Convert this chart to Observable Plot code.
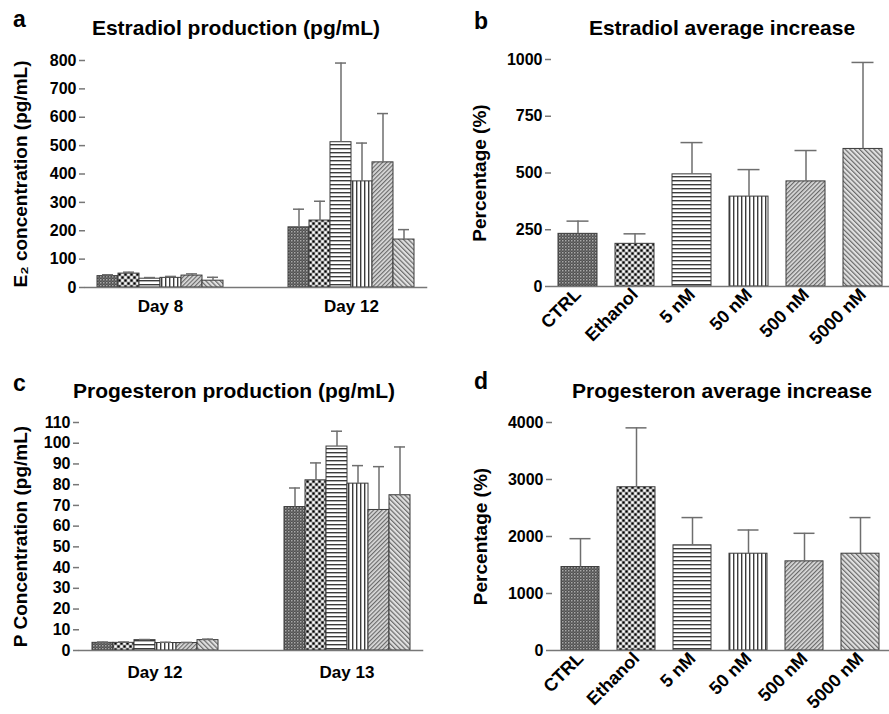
<!DOCTYPE html>
<html>
<head>
<meta charset="utf-8">
<script src="https://cdn.jsdelivr.net/npm/d3@7"></script>
<script src="https://cdn.jsdelivr.net/npm/@observablehq/plot@0.6"></script>
<style>
  body { margin: 0; background: #fff; }
  #root { position: relative; width: 889px; height: 714px; overflow: hidden;
          font-family: "Liberation Sans", Arial, sans-serif; font-weight: bold; color: #000; }
  .panel { position: absolute; }
  .title { position: absolute; font-size: 21px; white-space: nowrap; line-height: 1; transform: translate(-50%, -50%); }
  .letter { position: absolute; font-size: 23px; line-height: 1; }
</style>
</head>
<body>
<svg width="0" height="0" style="position:absolute">
  <defs>
    <pattern id="pat-ctrl" width="3" height="3" patternUnits="userSpaceOnUse">
      <rect width="3" height="3" fill="#505050"/>
      <rect width="1.5" height="1.5" fill="#a8a8a8"/>
      <rect x="1.5" y="1.5" width="1.5" height="1.5" fill="#6a6a6a"/>
    </pattern>
    <pattern id="pat-eth" width="6" height="6" patternUnits="userSpaceOnUse">
      <rect width="6" height="6" fill="#a8a8a8"/>
      <rect x="0.4" y="0.4" width="2.2" height="2.2" fill="#000"/>
      <rect x="3.4" y="3.4" width="2.2" height="2.2" fill="#000"/>
      <rect x="3.4" y="0.4" width="2.2" height="2.2" fill="#fff"/>
      <rect x="0.4" y="3.4" width="2.2" height="2.2" fill="#fff"/>
    </pattern>
    <pattern id="pat-5" width="4" height="4" patternUnits="userSpaceOnUse">
      <rect width="4" height="4" fill="#fff"/>
      <rect y="0" width="4" height="1.4" fill="#3c3c3c"/>
    </pattern>
    <pattern id="pat-50" width="4" height="4" patternUnits="userSpaceOnUse">
      <rect width="4" height="4" fill="#fff"/>
      <rect x="0" width="1.4" height="4" fill="#3c3c3c"/>
    </pattern>
    <pattern id="pat-500" width="3" height="3" patternUnits="userSpaceOnUse" patternTransform="rotate(45)">
      <rect width="3" height="3" fill="#dcdcdc"/>
      <rect width="1.2" height="3" fill="#6a6a6a"/>
    </pattern>
    <pattern id="pat-5000" width="3.4" height="3.4" patternUnits="userSpaceOnUse" patternTransform="rotate(-45)">
      <rect width="3.4" height="3.4" fill="#e0e0e0"/>
      <rect width="1.2" height="3.4" fill="#6a6a6a"/>
    </pattern>
  </defs>
</svg>
<div id="root"></div>
<script>
// ---------- data ----------
const treatments = ["CTRL", "Ethanol", "5 nM", "50 nM", "500 nM", "5000 nM"];
const patternIds = ["pat-ctrl", "pat-eth", "pat-5", "pat-50", "pat-500", "pat-5000"];

// (a) Estradiol production (pg/mL)
const e2Days = ["Day 8", "Day 12"];
const e2Day8Mean = [40, 49, 31, 34, 42, 24];
const e2Day8Sd = [5, 5, 4, 5, 6, 12];
const e2Day12Mean = [212, 236, 512, 374, 441, 169];
const e2Day12Sd = [64, 68, 279, 135, 172, 35];
const e2Ticks = [0, 100, 200, 300, 400, 500, 600, 700, 800];

// (b) Estradiol average increase (%)
const e2IncMean = [232, 188, 494, 396, 463, 606];
const e2IncSd = [56, 44, 140, 119, 136, 381];
const e2IncTicks = [0, 250, 500, 750, 1000];

// (c) Progesteron production (pg/mL)
const pDays = ["Day 12", "Day 13"];
const pDay12Mean = [3.7, 3.7, 5.0, 3.6, 3.6, 5.0];
const pDay12Sd = [0.4, 0.4, 0.3, 0.4, 0.3, 0.5];
const pDay13Mean = [69.2, 82.1, 98.4, 80.5, 67.8, 74.9];
const pDay13Sd = [9.2, 8.4, 7.4, 8.7, 20.9, 23.3];
const pTicks = [0, 10, 20, 30, 40, 50, 60, 70, 80, 90, 100, 110];

// (d) Progesteron average increase (%)
const pIncMean = [1464, 2864, 1845, 1698, 1564, 1698];
const pIncSd = [498, 1042, 487, 416, 492, 634];
const pIncTicks = [0, 1000, 2000, 3000, 4000];

// ---------- helpers ----------
const FONT = "'Liberation Sans', Arial, sans-serif";
const AXIS_GRAY = "#777";
const ERR_GRAY = "#6e6e6e";
const root = document.getElementById("root");

function place(node, left, top) {
  const d = document.createElement("div");
  d.className = "panel";
  d.style.left = left + "px";
  d.style.top = top + "px";
  d.appendChild(node);
  root.appendChild(d);
}
function addText(cls, text, left, top) {
  const d = document.createElement("div");
  d.className = cls;
  d.textContent = text;
  d.style.left = left + "px";
  d.style.top = top + "px";
  root.appendChild(d);
}
function fixYLabel(svg, size) {
  svg.querySelectorAll('[aria-label="y-axis label"] text').forEach(t => {
    t.setAttribute("font-size", size);
    t.textContent = t.textContent.replace(/[↑↓→←]/g, "").trim();
  });
}

const colorScale = {domain: treatments, range: patternIds.map(id => `url(#${id})`)};
const baseStyle = {background: "transparent", fontFamily: FONT, fontWeight: "bold", fontSize: "16px", overflow: "visible"};

function groupedRows(days, means, sds) {
  return days.flatMap((day, i) => treatments.map((t, j) => ({day, treatment: t, value: means[i][j], top: means[i][j] + sds[i][j]})));
}
function simpleRows(means, sds) {
  return treatments.map((t, j) => ({treatment: t, value: means[j], top: means[j] + sds[j]}));
}
function yAxis(yTicks, yLabel, L) {
  return Plot.axisY({ticks: yTicks, tickFormat: "d", tickSize: 6, tickPadding: 3, stroke: AXIS_GRAY, fontSize: 16,
                     line: true, strokeWidth: 1.5, label: yLabel, labelArrow: "none",
                     labelAnchor: "center", labelOffset: L.labelOffset});
}

function groupedPanel(rows, days, yDomain, yTicks, yLabel, L) {
  const svg = Plot.plot({
    width: L.width, height: L.height,
    marginLeft: L.ml, marginRight: L.mr, marginTop: L.mt, marginBottom: L.mb,
    style: baseStyle,
    fx: {domain: days, paddingInner: L.fxInner, paddingOuter: 0, label: null},
    x: {domain: treatments, paddingInner: 0, paddingOuter: L.xOuter, axis: null},
    y: {domain: yDomain},
    color: colorScale,
    marks: [
      Plot.barY(rows, {fx: "day", x: "treatment", y: "value", fill: "treatment", stroke: "#3a3a3a", strokeWidth: 1}),
      Plot.ruleX(rows, {fx: "day", x: "treatment", y1: "value", y2: "top", stroke: ERR_GRAY, strokeWidth: 1.5}),
      Plot.tickY(rows, {fx: "day", x: "treatment", y: "top", stroke: ERR_GRAY, strokeWidth: 1.5, insetLeft: 5, insetRight: 5}),
      Plot.frame({anchor: "bottom", facet: "super", stroke: AXIS_GRAY, strokeWidth: 1.5}),
      yAxis(yTicks, yLabel, L),
      Plot.axisFx({anchor: "bottom", tickSize: 0, tickPadding: L.fxPad, fontSize: 17, label: null})
    ]
  });
  fixYLabel(svg, 19);
  return svg;
}

function simplePanel(rows, yDomain, yTicks, yLabel, L) {
  const svg = Plot.plot({
    width: L.width, height: L.height,
    marginLeft: L.ml, marginRight: L.mr, marginTop: L.mt, marginBottom: L.mb,
    style: baseStyle,
    x: {domain: treatments, paddingInner: 0.316, paddingOuter: 0.12},
    y: {domain: yDomain},
    color: colorScale,
    marks: [
      Plot.barY(rows, {x: "treatment", y: "value", fill: "treatment", stroke: "#3a3a3a", strokeWidth: 1}),
      Plot.ruleX(rows, {x: "treatment", y1: "value", y2: "top", stroke: ERR_GRAY, strokeWidth: 1.5}),
      Plot.tickY(rows, {x: "treatment", y: "top", stroke: ERR_GRAY, strokeWidth: 1.5, insetLeft: 8.5, insetRight: 8.5}),
      Plot.ruleY([0], {stroke: AXIS_GRAY, strokeWidth: 1.5}),
      yAxis(yTicks, yLabel, L),
      Plot.axisX({tickRotate: -45, tickSize: 0, tickPadding: 5, fontSize: 18, label: null})
    ]
  });
  fixYLabel(svg, 19);
  return svg;
}

// ---------- panels ----------
place(groupedPanel(groupedRows(e2Days, [e2Day8Mean, e2Day12Mean], [e2Day8Sd, e2Day12Sd]), e2Days, [0, 800], e2Ticks,
  "E₂ concentration (pg/mL)",
  {width: 445, height: 330, ml: 84, mr: 18, mt: 60, mb: 43, fxInner: 0.2135, xOuter: 0.512, fxPad: 12, labelOffset: 72}), 0, 0);

place(simplePanel(simpleRows(e2IncMean, e2IncSd), [0, 1000], e2IncTicks, "Percentage (%)",
  {width: 444, height: 360, ml: 106, mr: 0, mt: 59, mb: 74, labelOffset: 79}), 445, 0);

place(groupedPanel(groupedRows(pDays, [pDay12Mean, pDay13Mean], [pDay12Sd, pDay13Sd]), pDays, [0, 110], pTicks,
  "P Concentration (pg/mL)",
  {width: 445, height: 354, ml: 79, mr: 22, mt: 62, mb: 64, fxInner: 0.2135, xOuter: 0.512, fxPad: 15, labelOffset: 66}), 0, 360);

place(simplePanel(simpleRows(pIncMean, pIncSd), [0, 4000], pIncTicks, "Percentage (%)",
  {width: 444, height: 354, ml: 107, mr: 0, mt: 62, mb: 64, labelOffset: 79}), 445, 360);

// ---------- titles & panel letters ----------
addText("title", "Estradiol production (pg/mL)", 236, 27);
addText("title", "Estradiol average increase", 722, 27);
addText("title", "Progesteron production (pg/mL)", 234, 390);
addText("title", "Progesteron average increase", 722, 390);
addText("letter", "a", 13, 8);
addText("letter", "b", 474, 10);
addText("letter", "c", 13, 372);
addText("letter", "d", 474, 370);
</script>
</body>
</html>
